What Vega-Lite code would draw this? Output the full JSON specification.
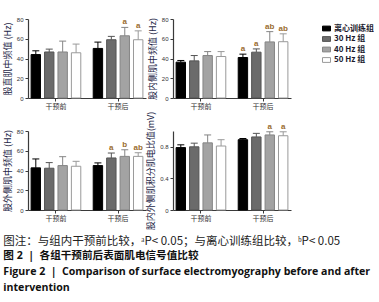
{
  "$schema": "https://vega.github.io/schema/vega-lite/v6.json",
  "padding": {"left": 3, "top": 16, "right": 0, "bottom": 0},
  "background": "white",
  "datasets": {
    "emg": [
      {"panel": "A", "period": "干预前", "group": "离心训练组", "value": 44, "err": 47.8, "sig": ""},
      {"panel": "A", "period": "干预前", "group": "30 Hz 组", "value": 46.6, "err": 49.5, "sig": ""},
      {"panel": "A", "period": "干预前", "group": "40 Hz 组", "value": 46.6, "err": 57.6, "sig": ""},
      {"panel": "A", "period": "干预前", "group": "50 Hz 组", "value": 45.8, "err": 54.6, "sig": ""},
      {"panel": "A", "period": "干预后", "group": "离心训练组", "value": 50.2, "err": 56.6, "sig": ""},
      {"panel": "A", "period": "干预后", "group": "30 Hz 组", "value": 59, "err": 62.4, "sig": ""},
      {"panel": "A", "period": "干预后", "group": "40 Hz 组", "value": 63, "err": 71.5, "sig": "a"},
      {"panel": "A", "period": "干预后", "group": "50 Hz 组", "value": 59, "err": 68, "sig": "a"},
      {"panel": "B", "period": "干预前", "group": "离心训练组", "value": 36.3, "err": 38, "sig": ""},
      {"panel": "B", "period": "干预前", "group": "30 Hz 组", "value": 37.6, "err": 43, "sig": ""},
      {"panel": "B", "period": "干预前", "group": "40 Hz 组", "value": 43, "err": 47, "sig": ""},
      {"panel": "B", "period": "干预前", "group": "50 Hz 组", "value": 42, "err": 47, "sig": ""},
      {"panel": "B", "period": "干预后", "group": "离心训练组", "value": 41, "err": 44.4, "sig": "a"},
      {"panel": "B", "period": "干预后", "group": "30 Hz 组", "value": 46.4, "err": 49.7, "sig": "a"},
      {"panel": "B", "period": "干预后", "group": "40 Hz 组", "value": 56.8, "err": 67.2, "sig": "ab"},
      {"panel": "B", "period": "干预后", "group": "50 Hz 组", "value": 57, "err": 65, "sig": "ab"},
      {"panel": "C", "period": "干预前", "group": "离心训练组", "value": 42.7, "err": 51.7, "sig": ""},
      {"panel": "C", "period": "干预前", "group": "30 Hz 组", "value": 42.3, "err": 48, "sig": ""},
      {"panel": "C", "period": "干预前", "group": "40 Hz 组", "value": 45, "err": 54, "sig": ""},
      {"panel": "C", "period": "干预前", "group": "50 Hz 组", "value": 44.3, "err": 49.3, "sig": ""},
      {"panel": "C", "period": "干预后", "group": "离心训练组", "value": 45, "err": 47.7, "sig": ""},
      {"panel": "C", "period": "干预后", "group": "30 Hz 组", "value": 52.7, "err": 57.7, "sig": "a"},
      {"panel": "C", "period": "干预后", "group": "40 Hz 组", "value": 54.3, "err": 61, "sig": "b"},
      {"panel": "C", "period": "干预后", "group": "50 Hz 组", "value": 54.3, "err": 58, "sig": "ab"},
      {"panel": "D", "period": "干预前", "group": "离心训练组", "value": 0.79, "err": 0.825, "sig": ""},
      {"panel": "D", "period": "干预前", "group": "30 Hz 组", "value": 0.8, "err": 0.846, "sig": ""},
      {"panel": "D", "period": "干预前", "group": "40 Hz 组", "value": 0.85, "err": 0.95, "sig": ""},
      {"panel": "D", "period": "干预前", "group": "50 Hz 组", "value": 0.81, "err": 0.89, "sig": ""},
      {"panel": "D", "period": "干预后", "group": "离心训练组", "value": 0.89, "err": 0.905, "sig": ""},
      {"panel": "D", "period": "干预后", "group": "30 Hz 组", "value": 0.925, "err": 0.97, "sig": ""},
      {"panel": "D", "period": "干预后", "group": "40 Hz 组", "value": 0.95, "err": 0.99, "sig": "a"},
      {"panel": "D", "period": "干预后", "group": "50 Hz 组", "value": 0.94, "err": 0.99, "sig": "a"}
    ]
  },
  "title": {
    "text": "图注：与组内干预前比较，ᵃP< 0.05；与离心训练组比较，ᵇP< 0.05",
    "subtitle": ["图 2 \u00a0|\u00a0 各组干预前后表面肌电信号值比较", "Figure 2 \u00a0|\u00a0 Comparison of surface electromyography before and after", "intervention"],
    "orient": "bottom",
    "anchor": "start",
    "frame": "bounds",
    "offset": 6,
    "limit": 500,
    "font": "Noto Sans CJK SC",
    "fontSize": 11.5,
    "fontWeight": "normal",
    "color": "#222222",
    "subtitleFont": "Open Sans, Noto Sans CJK SC",
    "subtitleFontSize": 10.6,
    "subtitleFontWeight": "bold",
    "subtitleColor": "#111111",
    "subtitleLineHeight": 16,
    "subtitlePadding": 4
  },
  "columns": 2,
  "spacing": {"row": 33, "column": 27},
  "bounds": "flush",
  "concat": [
    {
      "width": 118, "height": 79,
      "data": {"name": "emg"},
      "transform": [{"filter": "datum.panel === 'A'"}],
      "encoding": {
        "x": {"field": "period", "type": "nominal", "sort": ["干预前", "干预后"], "scale": {"paddingInner": 0.2, "paddingOuter": 0.05}, "axis": {"title": null, "labelAngle": 0, "labelFontSize": 7, "tickSize": 3, "labelPadding": 1, "labelFont": "Noto Sans CJK SC"}},
        "xOffset": {"field": "group", "type": "nominal", "sort": ["离心训练组", "30 Hz 组", "40 Hz 组", "50 Hz 组"], "scale": {"paddingInner": 0.3, "paddingOuter": 0}}
      },
      "layer": [
        {"mark": {"type": "bar", "strokeWidth": 1},
         "encoding": {
           "y": {"field": "value", "type": "quantitative", "scale": {"domain": [0, 80], "nice": false}, "axis": {"title": "股直肌中频值 (Hz)", "values": [0, 20, 40, 60, 80], "labelOverlap": false, "tickSize": 3, "labelFontSize": 6, "titleFontSize": 9, "titlePadding": 4}},
           "fill": {"field": "group", "type": "nominal", "sort": ["离心训练组", "30 Hz 组", "40 Hz 组", "50 Hz 组"], "scale": {"domain": ["离心训练组", "30 Hz 组", "40 Hz 组", "50 Hz 组"], "range": ["#000000", "#6b6b6b", "#a3a3a3", "#ffffff"]}},
           "stroke": {"field": "group", "type": "nominal", "scale": {"domain": ["离心训练组", "30 Hz 组", "40 Hz 组", "50 Hz 组"], "range": ["#000000", "#555555", "#858585", "#9a9a9a"]}}
         }},
        {"mark": {"type": "rule", "strokeWidth": 1},
         "encoding": {"y": {"field": "value", "type": "quantitative", "scale": {"domain": [0, 80], "nice": false}}, "y2": {"field": "err"}, "stroke": {"field": "group", "type": "nominal"}}},
        {"mark": {"type": "point", "shape": "M-1,0H1", "size": 49, "filled": false, "opacity": 1, "strokeWidth": 1},
         "encoding": {"y": {"field": "err", "type": "quantitative", "scale": {"domain": [0, 80], "nice": false}}, "stroke": {"field": "group", "type": "nominal"}}},
        {"mark": {"type": "text", "baseline": "bottom", "dy": -1, "fontSize": 8, "fontWeight": "bold", "color": "#9a6c30"},
         "encoding": {"y": {"field": "err", "type": "quantitative", "scale": {"domain": [0, 80], "nice": false}}, "text": {"field": "sig"}}}
      ]
    },
    {
      "width": 118, "height": 79,
      "data": {"name": "emg"},
      "transform": [{"filter": "datum.panel === 'B'"}],
      "encoding": {
        "x": {"field": "period", "type": "nominal", "sort": ["干预前", "干预后"], "scale": {"paddingInner": 0.2, "paddingOuter": 0.05}, "axis": {"title": null, "labelAngle": 0, "labelFontSize": 7, "tickSize": 3, "labelPadding": 1, "labelFont": "Noto Sans CJK SC"}},
        "xOffset": {"field": "group", "type": "nominal", "sort": ["离心训练组", "30 Hz 组", "40 Hz 组", "50 Hz 组"], "scale": {"paddingInner": 0.3, "paddingOuter": 0}}
      },
      "layer": [
        {"mark": {"type": "bar", "strokeWidth": 1},
         "encoding": {
           "y": {"field": "value", "type": "quantitative", "scale": {"domain": [0, 80], "nice": false}, "axis": {"title": "股内侧肌中频值 (Hz)", "values": [0, 20, 40, 60, 80], "labelOverlap": false, "tickSize": 3, "labelFontSize": 6, "titleFontSize": 9, "titlePadding": 4}},
           "fill": {"field": "group", "type": "nominal", "sort": ["离心训练组", "30 Hz 组", "40 Hz 组", "50 Hz 组"], "legend": {"orient": "none", "legendX": 294, "legendY": 5, "title": null, "symbolType": "M-1,-0.6H1V0.6H-1Z", "symbolSize": 64, "symbolStrokeWidth": 1, "labelFontSize": 8, "labelFontWeight": "bold", "labelFont": "Noto Sans CJK SC", "labelColor": "#1a1a2e", "rowPadding": 1.5, "labelOffset": 3}},
           "stroke": {"field": "group", "type": "nominal", "legend": {"orient": "none", "legendX": 294, "legendY": 5, "title": null, "symbolType": "M-1,-0.6H1V0.6H-1Z", "symbolSize": 64, "symbolStrokeWidth": 1, "labelFontSize": 8, "labelFontWeight": "bold", "labelFont": "Noto Sans CJK SC", "labelColor": "#1a1a2e", "rowPadding": 1.5, "labelOffset": 3}}
         }},
        {"mark": {"type": "rule", "strokeWidth": 1},
         "encoding": {"y": {"field": "value", "type": "quantitative", "scale": {"domain": [0, 80], "nice": false}}, "y2": {"field": "err"}, "stroke": {"field": "group", "type": "nominal"}}},
        {"mark": {"type": "point", "shape": "M-1,0H1", "size": 49, "filled": false, "opacity": 1, "strokeWidth": 1},
         "encoding": {"y": {"field": "err", "type": "quantitative", "scale": {"domain": [0, 80], "nice": false}}, "stroke": {"field": "group", "type": "nominal"}}},
        {"mark": {"type": "text", "baseline": "bottom", "dy": -1, "fontSize": 8, "fontWeight": "bold", "color": "#9a6c30"},
         "encoding": {"y": {"field": "err", "type": "quantitative", "scale": {"domain": [0, 80], "nice": false}}, "text": {"field": "sig"}}}
      ]
    },
    {
      "width": 118, "height": 79,
      "data": {"name": "emg"},
      "transform": [{"filter": "datum.panel === 'C'"}],
      "encoding": {
        "x": {"field": "period", "type": "nominal", "sort": ["干预前", "干预后"], "scale": {"paddingInner": 0.2, "paddingOuter": 0.05}, "axis": {"title": null, "labelAngle": 0, "labelFontSize": 7, "tickSize": 3, "labelPadding": 1, "labelFont": "Noto Sans CJK SC"}},
        "xOffset": {"field": "group", "type": "nominal", "sort": ["离心训练组", "30 Hz 组", "40 Hz 组", "50 Hz 组"], "scale": {"paddingInner": 0.3, "paddingOuter": 0}}
      },
      "layer": [
        {"mark": {"type": "bar", "strokeWidth": 1},
         "encoding": {
           "y": {"field": "value", "type": "quantitative", "scale": {"domain": [0, 80], "nice": false}, "axis": {"title": "股外侧肌中频值 (Hz)", "values": [0, 20, 40, 60, 80], "labelOverlap": false, "tickSize": 3, "labelFontSize": 6, "titleFontSize": 9, "titlePadding": 4}},
           "fill": {"field": "group", "type": "nominal"},
           "stroke": {"field": "group", "type": "nominal"}
         }},
        {"mark": {"type": "rule", "strokeWidth": 1},
         "encoding": {"y": {"field": "value", "type": "quantitative", "scale": {"domain": [0, 80], "nice": false}}, "y2": {"field": "err"}, "stroke": {"field": "group", "type": "nominal"}}},
        {"mark": {"type": "point", "shape": "M-1,0H1", "size": 49, "filled": false, "opacity": 1, "strokeWidth": 1},
         "encoding": {"y": {"field": "err", "type": "quantitative", "scale": {"domain": [0, 80], "nice": false}}, "stroke": {"field": "group", "type": "nominal"}}},
        {"mark": {"type": "text", "baseline": "bottom", "dy": -1, "fontSize": 8, "fontWeight": "bold", "color": "#9a6c30"},
         "encoding": {"y": {"field": "err", "type": "quantitative", "scale": {"domain": [0, 80], "nice": false}}, "text": {"field": "sig"}}}
      ]
    },
    {
      "width": 118, "height": 79,
      "data": {"name": "emg"},
      "transform": [{"filter": "datum.panel === 'D'"}],
      "encoding": {
        "x": {"field": "period", "type": "nominal", "sort": ["干预前", "干预后"], "scale": {"paddingInner": 0.2, "paddingOuter": 0.05}, "axis": {"title": null, "labelAngle": 0, "labelFontSize": 7, "tickSize": 3, "labelPadding": 1, "labelFont": "Noto Sans CJK SC"}},
        "xOffset": {"field": "group", "type": "nominal", "sort": ["离心训练组", "30 Hz 组", "40 Hz 组", "50 Hz 组"], "scale": {"paddingInner": 0.3, "paddingOuter": 0}}
      },
      "layer": [
        {"mark": {"type": "bar", "strokeWidth": 1},
         "encoding": {
           "y": {"field": "value", "type": "quantitative", "scale": {"domain": [0, 1], "nice": false}, "axis": {"title": "股内外侧肌积分肌电比值(mV)", "values": [0, 0.2, 0.4, 0.6, 0.8, 1.0], "labelExpr": "datum.value === 0 ? '0' : format(datum.value, '.1f')", "labelOverlap": false, "tickSize": 3, "labelFontSize": 6, "titleFontSize": 9, "titlePadding": 4}},
           "fill": {"field": "group", "type": "nominal"},
           "stroke": {"field": "group", "type": "nominal"}
         }},
        {"mark": {"type": "rule", "strokeWidth": 1},
         "encoding": {"y": {"field": "value", "type": "quantitative", "scale": {"domain": [0, 1], "nice": false}}, "y2": {"field": "err"}, "stroke": {"field": "group", "type": "nominal"}}},
        {"mark": {"type": "point", "shape": "M-1,0H1", "size": 49, "filled": false, "opacity": 1, "strokeWidth": 1},
         "encoding": {"y": {"field": "err", "type": "quantitative", "scale": {"domain": [0, 1], "nice": false}}, "stroke": {"field": "group", "type": "nominal"}}},
        {"mark": {"type": "text", "baseline": "bottom", "dy": -1, "fontSize": 8, "fontWeight": "bold", "color": "#9a6c30"},
         "encoding": {"y": {"field": "err", "type": "quantitative", "scale": {"domain": [0, 1], "nice": false}}, "text": {"field": "sig"}}}
      ]
    }
  ],
  "config": {
    "view": {"stroke": null},
    "axis": {"grid": false, "labelOverlap": false, "domainColor": "#3a3a3a", "domainWidth": 1.2, "tickColor": "#3a3a3a", "labelColor": "#333333", "labelFont": "Liberation Sans", "titleFont": "Noto Sans CJK SC", "titleFontWeight": "normal", "titleColor": "#1e2747"},
    "axisY": {"tickCount": 5, "labelOverlap": false}
  }
}
